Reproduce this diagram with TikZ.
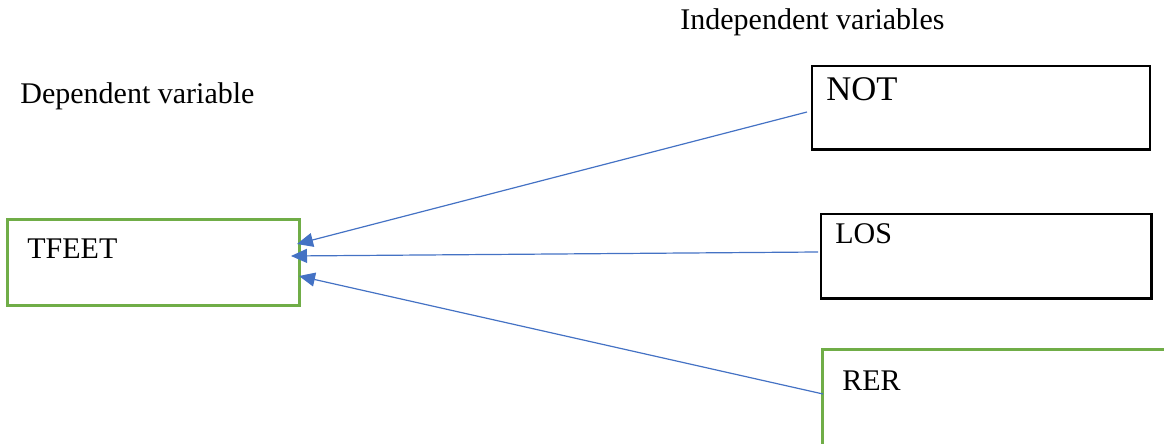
\documentclass[tikz,border=0pt]{standalone}
\usepackage{fontspec}
\setmainfont{Liberation Serif}
\usetikzlibrary{arrows.meta}
\definecolor{boxgreen}{HTML}{70AD47}
\definecolor{arrowblue}{HTML}{4472C4}
\begin{document}
\begin{tikzpicture}[x=0.5pt,y=-0.5pt,
  lbl/.style={anchor=base west,inner sep=0pt,font=\fontsize{15}{18}\selectfont},
  biglbl/.style={lbl,font=\fontsize{17.3}{20}\selectfont},
  greenbox/.style={draw=boxgreen,line width=1.5pt,inner sep=0pt,rectangle},
  blackbox/.style={draw=black,line width=1.4pt,inner sep=0pt,rectangle},
  link/.style={draw=arrowblue,line width=0.6pt,-{Triangle[length=8pt,width=7pt]}}]
\useasboundingbox (0,0) rectangle (1164,444);
\clip (0,0) rectangle (1164,444);
% boxes
\node[greenbox,minimum width=146pt,minimum height=43pt] (tfeetbox) at (153,263) {};
\node[blackbox,minimum width=169pt,minimum height=41.75pt] (notbox) at (981,107.75) {};
\node[blackbox,minimum width=165.25pt,minimum height=42.25pt] (losbox) at (986.25,256.25) {};
\node[greenbox,minimum width=184pt,minimum height=60pt] (rerbox) at (1006,410) {};
% texts
\node[lbl] (tfeet) at (27,259) {TFEET};
\node[biglbl] (not) at (826,101) {NOT};
\node[lbl] (los) at (835,243) {LOS};
\node[lbl] (rer) at (842,391) {RER};
\node[lbl] (dep) at (20,104) {Dependent variable};
\node[lbl] (indep) at (680,30) {Independent variables};
% connector ends
\coordinate (notS) at (807,112);
\coordinate (losS) at (818,252);
\coordinate (rerS) at (823,394);
\coordinate (tipA) at (297,244);
\coordinate (tipB) at (291,256);
\coordinate (tipC) at (299,276);
\draw[link] (notS) -- (tipA);
\draw[link] (losS) -- (tipB);
\draw[link] (rerS) -- (tipC);
\end{tikzpicture}
\end{document}
